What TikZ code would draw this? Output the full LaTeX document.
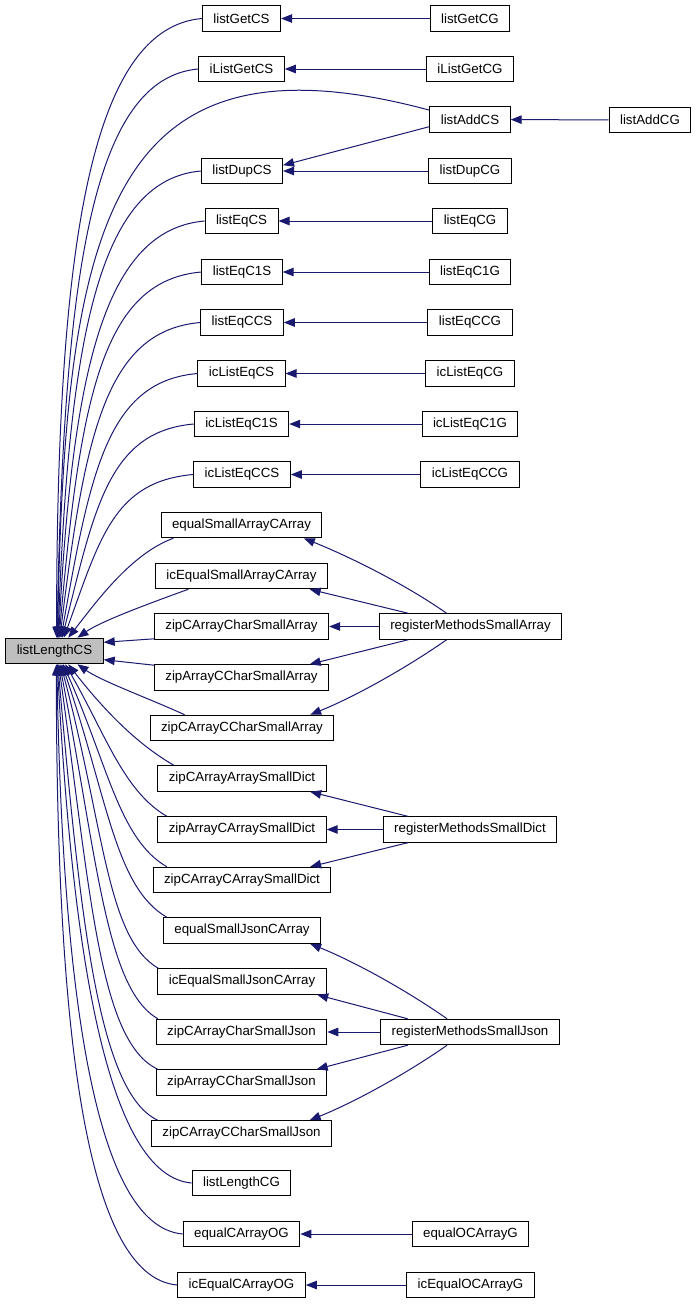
\documentclass[tikz,border=0pt]{standalone}
\usepackage{fontspec}
\setmainfont{Liberation Sans}
\usetikzlibrary{arrows.meta}
\definecolor{edgeblue}{RGB}{25,25,112}
\definecolor{rootgray}{RGB}{191,191,191}

\begin{document}
\begin{tikzpicture}[x=1pt,y=1pt,
    fn/.style={rectangle,draw,line width=1pt,inner xsep=11pt,inner ysep=0pt,minimum height=25.5pt,font=\fontsize{13.3}{16}\selectfont},
    >={Triangle[length=11pt,width=8.5pt]}]
            \useasboundingbox (0,0) rectangle (696,-1304);

            \draw (54.5,-651) node[fn,fill=rootgray](len){listLengthCS};

            \draw (241.5,-18.5)  node[fn](s00){listGetCS};
            \draw (241.5,-69)    node[fn](s01){iListGetCS};
            \draw (470,-119.5)   node[fn](c02){listAddCS};
            \draw (242,-171)     node[fn](s03){listDupCS};
            \draw (241.5,-221)   node[fn](s04){listEqCS};
            \draw (242,-272)     node[fn](s05){listEqC1S};
            \draw (242,-322.5)   node[fn](s06){listEqCCS};
            \draw (241.5,-373.5) node[fn](s07){icListEqCS};
            \draw (241.5,-424)   node[fn](s08){icListEqC1S};
            \draw (242,-474.5)   node[fn](s09){icListEqCCS};
            \draw (241.5,-525)   node[fn](s10){equalSmallArrayCArray};
            \draw (241.5,-576)   node[fn](s11){icEqualSmallArrayCArray};
            \draw (241.5,-626.5) node[fn](s12){zipCArrayCharSmallArray};
            \draw (241.5,-677.5) node[fn](s13){zipArrayCCharSmallArray};
            \draw (242,-728)     node[fn](s14){zipCArrayCCharSmallArray};
            \draw (242,-778.5)   node[fn](s15){zipCArrayArraySmallDict};
            \draw (242,-829.5)   node[fn](s16){zipArrayCArraySmallDict};
            \draw (242,-880)     node[fn](s17){zipCArrayCArraySmallDict};
            \draw (242,-930.5)   node[fn](s18){equalSmallJsonCArray};
            \draw (242,-981.5)   node[fn](s19){icEqualSmallJsonCArray};
            \draw (241.5,-1032)  node[fn](s20){zipCArrayCharSmallJson};
            \draw (241.5,-1082.5) node[fn](s21){zipArrayCCharSmallJson};
            \draw (241.5,-1133.5) node[fn](s22){zipCArrayCCharSmallJson};
            \draw (241.5,-1183)  node[fn](s23){listLengthCG};
            \draw (241.5,-1234)  node[fn](s24){equalCArrayOG};
            \draw (241.5,-1285)  node[fn](s25){icEqualCArrayOG};

            \draw (470,-18.5)    node[fn](g00){listGetCG};
            \draw (470,-69)      node[fn](g01){iListGetCG};
            \draw (650,-120)     node[fn](a02){listAddCG};
            \draw (470,-171)     node[fn](g03){listDupCG};
            \draw (470,-221)     node[fn](g04){listEqCG};
            \draw (470,-272)     node[fn](g05){listEqC1G};
            \draw (470,-322.5)   node[fn](g06){listEqCCG};
            \draw (470,-373.5)   node[fn](g07){icListEqCG};
            \draw (470,-424)     node[fn](g08){icListEqC1G};
            \draw (470,-474.5)   node[fn](g09){icListEqCCG};
            \draw (470.5,-626.5) node[fn](regA){registerMethodsSmallArray};
            \draw (470,-829.5)   node[fn](regD){registerMethodsSmallDict};
            \draw (470,-1032)    node[fn](regJ){registerMethodsSmallJson};
            \draw (470.5,-1234)  node[fn](g24){equalOCArrayG};
            \draw (470.5,-1285)  node[fn](g25){icEqualOCArrayG};

            % callers of listLengthCS
            \begin{scope}[edgeblue, line width=1pt]
                \path[->] (s00.west) edge[out=185,in=90,out distance=110pt,in distance=400pt] (len.81);
                \path[->] (s01.west) edge[out=185,in=89,out distance=105pt,in distance=370pt] (len.79);
                \path[->] (c02.167)  edge[out=165,in=89,out distance=330pt,in distance=420pt] (len.77);
                \path[->] (s03.west) edge[out=185,in=88,out distance=100pt,in distance=310pt] (len.75);
                \path[->] (s04.west) edge[out=185,in=87,out distance=100pt,in distance=270pt] (len.73);
                \path[->] (s05.west) edge[out=185,in=85,out distance=100pt,in distance=240pt] (len.71);
                \path[->] (s06.west) edge[out=185,in=83,out distance=95pt,in distance=205pt] (len.68);
                \path[->] (s07.west) edge[out=185,in=80,out distance=90pt,in distance=170pt] (len.64);
                \path[->] (s08.west) edge[out=185,in=76,out distance=85pt,in distance=135pt] (len.60);
                \path[->] (s09.west) edge[out=185,in=70,out distance=80pt,in distance=105pt] (len.55);
                \path[->] (s10.191)  edge[out=200,in=52,out distance=45pt,in distance=45pt] (len.44);
                \path[->] (s11.194)  edge[out=200,in=35,out distance=35pt,in distance=30pt] (len.30);
                \path[->] (s12.188)  edge (len.10);
                \path[->] (s13.172)  edge (len.-10);
                \path[->] (s14.167)  edge[out=155,in=-35,out distance=35pt,in distance=30pt] (len.-30);
                \path[->] (s15.169)  edge[out=150,in=-52,out distance=45pt,in distance=55pt] (len.-44);
                \path[->] (s16.170)  edge[out=150,in=-60,out distance=50pt,in distance=80pt] (len.-51);
                \path[->] (s17.170)  edge[out=150,in=-66,out distance=55pt,in distance=110pt] (len.-57);
                \path[->] (s18.170)  edge[out=150,in=-71,out distance=60pt,in distance=140pt] (len.-61);
                \path[->] (s19.171)  edge[out=150,in=-75,out distance=60pt,in distance=170pt] (len.-65);
                \path[->] (s20.171)  edge[out=150,in=-79,out distance=60pt,in distance=200pt] (len.-69);
                \path[->] (s21.171)  edge[out=155,in=-82,out distance=65pt,in distance=230pt] (len.-73);
                \path[->] (s22.171)  edge[out=155,in=-85,out distance=65pt,in distance=260pt] (len.-76);
                \path[->] (s23.west) edge[out=175,in=-87,out distance=85pt,in distance=290pt] (len.-78);
                \path[->] (s24.west) edge[out=175,in=-89,out distance=90pt,in distance=320pt] (len.-80);
                \path[->] (s25.west) edge[out=175,in=-90,out distance=95pt,in distance=350pt] (len.-82);
            \end{scope}

            % second and third level
            \begin{scope}[edgeblue, line width=1pt]
                \path[->] (g00) edge (s00);
                \path[->] (g01) edge (s01);
                \path[->] (a02) edge (c02);
                \path[->] (c02.190) edge (s03.8);
                \path[->] (g03) edge (s03);
                \path[->] (g04) edge (s04);
                \path[->] (g05) edge (s05);
                \path[->] (g06) edge (s06);
                \path[->] (g07) edge (s07);
                \path[->] (g08) edge (s08);
                \path[->] (g09) edge (s09);
                \path[->] (regA.151) edge[out=145,in=-22,looseness=.8] (s10.-12);
                \path[->] (regA.168) edge (s11.-11);
                \path[->] (regA) edge (s12);
                \path[->] (regA.-168) edge (s13.11);
                \path[->] (regA.-151) edge[out=-145,in=22,looseness=.8] (s14.11);
                \path[->] (regD.168) edge (s15.-11);
                \path[->] (regD) edge (s16);
                \path[->] (regD.-168) edge (s17.11);
                \path[->] (regJ.150) edge[out=145,in=-22,looseness=.8] (s18.-11);
                \path[->] (regJ.168) edge (s19.-10);
                \path[->] (regJ) edge (s20);
                \path[->] (regJ.-168) edge (s21.10);
                \path[->] (regJ.-150) edge[out=-145,in=22,looseness=.8] (s22.11);
                \path[->] (g24) edge (s24);
                \path[->] (g25) edge (s25);
            \end{scope}
        \end{tikzpicture}
\end{document}
